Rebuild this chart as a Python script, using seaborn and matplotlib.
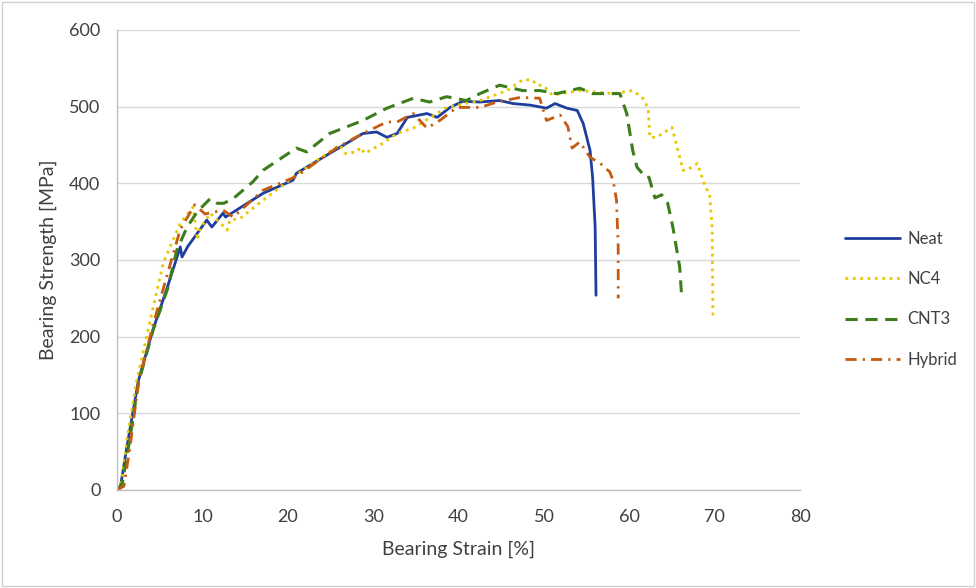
import matplotlib
matplotlib.use("Agg")
import matplotlib.pyplot as plt
import seaborn as sns
import pandas as pd
from matplotlib.patches import Rectangle

# curves (strain %, strength MPa)
neat_x = [0, 0.4, 1.2, 2.5, 4.2, 5.9, 7.4, 7.6, 8.3, 9.4, 10.5, 11.1, 12.4, 12.7, 14.4, 17.1,
          20.6, 21, 24.9, 28.8, 30.4, 31.6, 32.8, 34, 36.3, 37.5, 39, 40.5, 42.5, 44.8, 46.4,
          48.4, 50.3, 51.3, 52.7, 53.9, 54.6, 55.4, 55.7, 56, 56.1]
neat_y = [0, 5, 60, 143, 209, 265, 317, 304, 318, 335, 352, 343, 361, 356, 368, 387,
          404, 413, 439, 465, 467, 460, 465, 486, 491, 486, 499, 507, 506, 508, 504,
          502, 498, 504, 498, 495, 478, 443, 408, 343, 254]

nc4_x = [0, 0.5, 1.2, 2.3, 3.9, 5.4, 7.4, 8.9, 9.4, 9.7, 10.9, 12.9, 13.2, 14.4, 17.1, 21,
         23.8, 26.1, 26.7, 28.1, 28.5, 29, 31.1, 32.8, 34.7, 38.6, 42.5, 45.7, 47.5, 48.6,
         49.2, 49.9, 51, 54.2, 58.1, 60.4, 61.6, 62.2, 62.4, 63.2, 65, 66.3, 66.7, 68,
         68.9, 69.4, 69.7, 69.8]
nc4_y = [0, 8, 70, 143, 222, 296, 348, 369, 326, 340, 361, 339, 352, 354, 378, 411,
         433, 450, 439, 441, 447, 439, 452, 465, 472, 499, 508, 521, 535, 535,
         528, 528, 515, 521, 517, 521, 511, 498, 460, 460, 473, 417, 417, 426,
         395, 387, 343, 226]

cnt3_x = [0, 0.6, 1.4, 2.5, 4.2, 5.9, 7, 8.2, 9.4, 10.9, 11.7, 12.5, 13.6, 15.9, 17.1, 21,
          22.2, 24.9, 28.8, 31.6, 34, 34.7, 36.6, 38.6, 40.9, 42.5, 44.8, 47.5, 49.5,
          51.5, 54.2, 55.7, 58.1, 58.9, 59.7, 60.4, 60.9, 62, 62.3, 63, 63.8, 64.5,
          65.1, 65.9, 66.1]
cnt3_y = [0, 8, 60, 140, 208, 262, 313, 343, 363, 380, 374, 374, 380, 402, 417, 446,
          441, 465, 482, 498, 508, 511, 506, 513, 508, 517, 528, 521, 521,
          517, 524, 517, 517, 517, 491, 443, 421, 407, 408, 381, 385, 374,
          343, 291, 258]

hybrid_x = [0, 0.8, 1.5, 2.5, 4.2, 5.9, 7.4, 9.1, 10.3, 12.4, 13.6, 15, 17.1, 21, 25.8,
            28.8, 31.6, 32.8, 34.7, 36.3, 37.8, 39.8, 42.5, 44.5, 47.2, 49.5, 50.3,
            51.9, 52.8, 53.3, 54.2, 55.4, 56.6, 57.7, 58.1, 58.5, 58.7, 58.7]
hybrid_y = [0, 5, 55, 140, 215, 282, 340, 372, 360, 365, 356, 370, 391, 409, 447,
            465, 480, 480, 491, 472, 482, 499, 499, 506, 512, 511, 482,
            489, 474, 446, 454, 434, 426, 415, 404, 378, 317, 250]

names = ["Neat", "NC4", "CNT3", "Hybrid"]
colors = ["#1f3d9c", "#e6c700", "#3d7d1c", "#c55a11"]
styles = ["-", ":", (0, (4, 2.5)), (0, (4, 2.2, 0.8, 2.2))]
widths = [2.0, 2.0, 2.2, 2.0]
curves = [(neat_x, neat_y), (nc4_x, nc4_y), (cnt3_x, cnt3_y), (hybrid_x, hybrid_y)]

sns.set_style("white")
plt.rcParams["font.family"] = ["Lato", "DejaVu Sans"]

fig = plt.figure(figsize=(9.76, 5.88), dpi=100)
ax = fig.add_axes([0.12, 0.1667, 0.6997, 0.7823])

for name, (xs, ys), c, ls, lw in zip(names, curves, colors, styles, widths):
    d = pd.DataFrame({"x": xs, "y": ys})
    sns.lineplot(data=d, x="x", y="y", ax=ax, sort=False, estimator=None,
                 color=c, linestyle=ls, linewidth=lw, label=name)

ax.set_xlim(0, 80)
ax.set_ylim(0, 600)
ax.set_xticks(range(0, 81, 10))
ax.set_yticks(range(0, 601, 100))
ax.yaxis.grid(True, color="#d9d9d9", linewidth=1)
ax.xaxis.grid(False)
for s in ["top", "right"]:
    ax.spines[s].set_visible(False)
for s in ["left", "bottom"]:
    ax.spines[s].set_color("#bfbfbf")
    ax.spines[s].set_linewidth(1)
ax.tick_params(labelsize=13, colors="#404040", length=0)
ax.tick_params(axis="x", pad=14)
ax.tick_params(axis="y", pad=12)
ax.set_xlabel("Bearing Strain [%]", fontsize=14, color="#404040", labelpad=11)
ax.set_ylabel("Bearing Strength [MPa]", fontsize=14, color="#404040", labelpad=9)

ax.get_legend().remove()
h, l = ax.get_legend_handles_labels()
fig.legend(h, l, loc="center left", bbox_to_anchor=(0.866, 0.491), frameon=False,
           fontsize=12, labelspacing=1.45, handlelength=3.3, handletextpad=0.45,
           borderpad=0, borderaxespad=0, labelcolor="#404040")

fig.patches.append(Rectangle((0.002, 0.004), 0.996, 0.992, transform=fig.transFigure,
                             fill=False, edgecolor="#d0d0d0", linewidth=1))

fig.savefig("out.png", dpi=100)
